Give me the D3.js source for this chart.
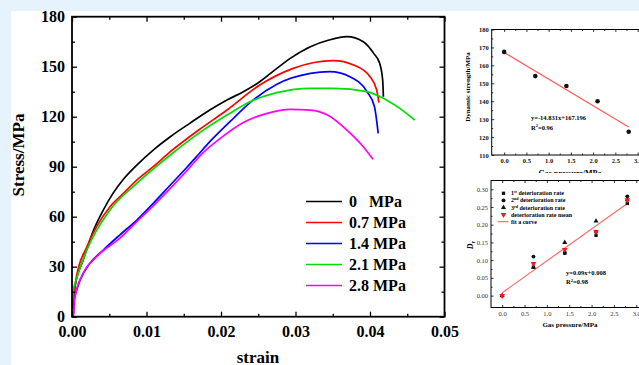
<!DOCTYPE html>
<html>
<head>
<meta charset="utf-8">
<script src="https://cdn.jsdelivr.net/npm/d3@7"></script>
<style>
  body { margin: 0; background: #fff; }
  svg { display: block; font-family: "Liberation Serif", "Times New Roman", serif; }
</style>
</head>
<body>
<script>
// main chart: stress-strain curves, [strain, stress]
const seriesNames = ['0   MPa', '0.7 MPa', '1.4 MPa', '2.1 MPa', '2.8 MPa'];
const seriesColors = ['#000000', '#ff0000', '#0000ff', '#00dd00', '#ff00ff'];
const curve0 = [[0.0002,2],[0.0004,18],[0.0015,34],[0.0029,52],[0.0042,64],[0.0055,74],[0.0069,82.5],[0.0087,91],[0.0109,100],[0.0132,108],[0.0158,116],[0.0185,124],[0.0208,130],[0.023,135],[0.0252,141],[0.0275,149],[0.0293,155],[0.032,162],[0.0345,166],[0.0369,168],[0.0391,165],[0.0405,158],[0.0413,152],[0.0417,142],[0.0418,132]];
const curve07 = [[0.00005,5],[0.0006,24],[0.002,42],[0.0033,54],[0.0051,66],[0.0069,74],[0.0087,82],[0.0109,90],[0.0132,99],[0.017,112],[0.0208,124],[0.0252,139],[0.0297,149],[0.0325,152.5],[0.0351,153.6],[0.0378,151],[0.04,144],[0.0409,136],[0.0412,128.4]];
const curve14 = [[0.0001,5],[0.0002,8],[0.0011,22],[0.0024,32],[0.0042,40],[0.0064,49],[0.0087,58],[0.0109,68],[0.0132,79],[0.0154,89.5],[0.017,97.5],[0.0185,105],[0.0212,117],[0.0239,128.5],[0.0275,139.5],[0.032,146],[0.0346,147],[0.0373,144],[0.0396,135],[0.0406,126],[0.0411,110]];
const curve21 = [[0.00005,8],[0.0001,14],[0.0007,24],[0.002,40],[0.0051,64],[0.0087,80],[0.0132,97],[0.017,110],[0.0208,121],[0.0239,129],[0.0275,134.4],[0.032,137],[0.0351,137],[0.0396,135],[0.0422,130],[0.044,125],[0.046,118]];
const curve28 = [[0.0002,0],[0.0004,12],[0.0015,26],[0.0033,36],[0.0064,47],[0.0087,57],[0.011,67],[0.0132,77],[0.0155,88],[0.0175,98],[0.0199,107],[0.023,116.5],[0.0262,122],[0.0293,124.4],[0.032,124],[0.0343,121],[0.0369,112],[0.0391,102],[0.0404,94.4]];
const curves = [curve0, curve07, curve14, curve21, curve28];
const strainTicks = [0, 0.01, 0.02, 0.03, 0.04, 0.05];
const stressTicks = [0, 30, 60, 90, 120, 150, 180];

// inset 1: dynamic strength vs gas pressure
const gasPressure = [0, 0.7, 1.4, 2.1, 2.8];
const dynStrength = [167.5, 154, 148.5, 140, 123];
const fit1 = [-14.831, 167.196];
const inset1XTicks = [0, 0.5, 1.0, 1.5, 2.0, 2.5, 3.0];
const inset1YTicks = [110, 120, 130, 140, 150, 160, 170, 180];

// inset 2: deterioration rate vs gas pressure
const rate1 = [0, 0.08, 0.12, 0.17, 0.26];
const rate2 = [0, 0.11, 0.12, 0.18, 0.28];
const rate3 = [0, 0.08, 0.15, 0.21, 0.27];
const rateMean = [0, 0.09, 0.13, 0.18, 0.27];
const fit2 = [0.09, 0.008];
const inset2YTicks = [0, 0.05, 0.10, 0.15, 0.20, 0.25, 0.30];

const W = 639, H = 365;
const svg = d3.select('body').append('svg').attr('width', W).attr('height', H);

svg.append('rect').attr('width', W).attr('height', H).attr('fill', '#e7f3fc');
svg.append('rect').attr('x', 11).attr('y', 11).attr('width', W - 11).attr('height', H - 11).attr('fill', '#fff');

// frame + inward ticks helper
function frameAxes(g, x, y, o) {
    const [x0, x1] = x.range(), [y0, y1] = y.range();
    const put = (axis, t) => g.append('g').attr('transform', t).call(axis)
        .attr('font-family', null)
        .call(s => s.select('.domain').remove());
    const lab = (axis) => axis.tickSizeOuter(0);
    // bottom
    put(lab(d3.axisBottom(x).tickValues(o.xTicks).tickSizeInner(-o.major).tickPadding(o.xPad).tickFormat(o.xFmt)), `translate(0,${y0})`)
        .call(s => s.selectAll('text').attr('font-size', o.fs).attr('font-weight', o.fw).attr('fill', o.tc));
    put(lab(d3.axisBottom(x).tickValues(o.xMinor).tickSizeInner(-o.minor).tickFormat('')), `translate(0,${y0})`);
    // top
    put(lab(d3.axisTop(x).tickValues(o.xTicks).tickSizeInner(-o.major).tickFormat('')), `translate(0,${y1})`);
    put(lab(d3.axisTop(x).tickValues(o.xMinor).tickSizeInner(-o.minor).tickFormat('')), `translate(0,${y1})`);
    // left
    put(lab(d3.axisLeft(y).tickValues(o.yTicks).tickSizeInner(-o.major).tickPadding(o.yPad).tickFormat(o.yFmt)), `translate(${x0},0)`)
        .call(s => s.selectAll('text').attr('font-size', o.fs).attr('font-weight', o.fw).attr('fill', o.tc));
    put(lab(d3.axisLeft(y).tickValues(o.yMinor).tickSizeInner(-o.minor).tickFormat('')), `translate(${x0},0)`);
    // right
    put(lab(d3.axisRight(y).tickValues(o.yTicks).tickSizeInner(-o.major).tickFormat('')), `translate(${x1},0)`);
    put(lab(d3.axisRight(y).tickValues(o.yMinor).tickSizeInner(-o.minor).tickFormat('')), `translate(${x1},0)`);
    g.selectAll('.tick line').attr('stroke', '#000').attr('stroke-width', o.tw);
    g.append('rect').attr('x', x0).attr('y', y1).attr('width', x1 - x0).attr('height', y0 - y1)
        .attr('fill', 'none').attr('stroke', '#000').attr('stroke-width', o.sw);
}

const mids = (t) => t.slice(1).map((v, i) => (v + t[i]) / 2);

// ---------- main chart ----------
const x = d3.scaleLinear().domain([0, 0.05]).range([72, 444.5]);
const y = d3.scaleLinear().domain([0, 180]).range([316.7, 16.7]);
const main = svg.append('g');

const line = d3.line().x(d => x(d[0])).y(d => y(d[1])).curve(d3.curveMonotoneX);
main.selectAll('path.curve')
    .data(curves)
    .enter()
    .append('path')
    .attr('class', 'curve')
    .attr('d', line)
    .attr('fill', 'none')
    .attr('stroke', (d, i) => seriesColors[i])
    .attr('stroke-width', 1.7);

frameAxes(main, x, y, {
    xTicks: strainTicks, xMinor: mids(strainTicks), yTicks: stressTicks, yMinor: mids(stressTicks),
    major: 5, minor: 3, xPad: 9, yPad: 7, fs: 16, fw: 'bold', tw: 1.3, sw: 1.8, tc: '#000',
    xFmt: d3.format('.2f'), yFmt: d3.format('d')
});

main.append('text').attr('transform', 'translate(24,155) rotate(-90)')
    .attr('text-anchor', 'middle').attr('font-size', 17).attr('font-weight', 'bold').text('Stress/MPa');
main.append('text').attr('x', 258).attr('y', 363)
    .attr('text-anchor', 'middle').attr('font-size', 17).attr('font-weight', 'bold').text('strain');

// legend
const leg = main.selectAll('g.leg').data(seriesNames).enter().append('g')
    .attr('class', 'leg').attr('transform', (d, i) => `translate(306,${201.5 + i * 21})`);
leg.append('line').attr('x1', 0).attr('x2', 36).attr('stroke', (d, i) => seriesColors[i]).attr('stroke-width', 1.7);
leg.append('text').attr('x', 43).attr('y', 5.5).attr('font-size', 16).attr('font-weight', 'bold')
    .attr('xml:space', 'preserve').style('white-space', 'pre').text(d => d);

// ---------- inset 1 ----------
const x1 = d3.scaleLinear().domain([-0.28, 3.2]).range([491.7, 646.5]);
const y1 = d3.scaleLinear().domain([110, 180]).range([155, 29.5]);
const in1 = svg.append('g');
frameAxes(in1, x1, y1, {
    xTicks: inset1XTicks, xMinor: mids(inset1XTicks), yTicks: inset1YTicks, yMinor: mids(inset1YTicks),
    major: 2.5, minor: 1.5, xPad: 3, yPad: 3, fs: 6.5, fw: 'bold', tw: 0.8, sw: 1, tc: '#111',
    xFmt: d3.format('.1f'), yFmt: d3.format('d')
});
in1.append('line')
    .attr('x1', x1(0)).attr('y1', y1(fit1[0] * 0 + fit1[1]))
    .attr('x2', x1(2.8)).attr('y2', y1(fit1[0] * 2.8 + fit1[1]))
    .attr('stroke', '#ff5a5a').attr('stroke-width', 1.2);
in1.selectAll('circle').data(gasPressure).enter().append('circle')
    .attr('cx', d => x1(d)).attr('cy', (d, i) => y1(dynStrength[i])).attr('r', 2.3).attr('fill', '#111');
in1.append('text').attr('x', 531).attr('y', 120).attr('font-size', 6.5).attr('font-weight', 'bold').text('y=-14.831x+167.196');
const r1 = in1.append('text').attr('x', 531).attr('y', 129.5).attr('font-size', 6.5).attr('font-weight', 'bold');
r1.append('tspan').text('R');
r1.append('tspan').attr('font-size', 4.5).attr('dy', -2.5).text('2');
r1.append('tspan').attr('dy', 2.5).text('=0.96');
in1.append('text').attr('transform', 'translate(470,87) rotate(-90)').attr('text-anchor', 'middle')
    .attr('font-size', 7).attr('font-weight', 'bold').text('Dynamic strength/MPa');
in1.append('text').attr('x', 570).attr('y', 175.5).attr('text-anchor', 'middle')
    .attr('font-size', 8).attr('font-weight', 'bold').text('Gas pressure/MPa');

// ---------- inset 2 ----------
svg.append('rect').attr('x', 462).attr('y', 173).attr('width', W - 462).attr('height', 167).attr('fill', '#fff');
const x2 = d3.scaleLinear().domain([-0.25, 3.2]).range([491, 645.2]);
const y2 = d3.scaleLinear().domain([-0.0335, 0.3247]).range([307.5, 180.5]);
const in2 = svg.append('g');
frameAxes(in2, x2, y2, {
    xTicks: inset1XTicks, xMinor: mids(inset1XTicks), yTicks: inset2YTicks, yMinor: mids(inset2YTicks),
    major: 2.5, minor: 1.5, xPad: 4, yPad: 3, fs: 6.5, fw: 'normal', tw: 0.8, sw: 1, tc: '#333',
    xFmt: d3.format('.1f'), yFmt: d3.format('.2f')
});
in2.append('line')
    .attr('x1', x2(0)).attr('y1', y2(fit2[0] * 0 + fit2[1]))
    .attr('x2', x2(2.8)).attr('y2', y2(fit2[0] * 2.8 + fit2[1]))
    .attr('stroke', '#ff6a6a').attr('stroke-width', 1.2);

const sym = {
    square: d3.symbol(d3.symbolSquare, 11)(),
    circle: d3.symbol(d3.symbolCircle, 12)(),
    tri: d3.symbol(d3.symbolTriangle, 11)(),
};
const triDown = d3.symbol(d3.symbolTriangle, 14)();
const rateSets = [
    { vals: rate1, path: sym.square, color: '#111', rot: 0 },
    { vals: rate2, path: sym.circle, color: '#111', rot: 0 },
    { vals: rate3, path: sym.tri, color: '#111', rot: 0 },
    { vals: rateMean, path: triDown, color: '#ee1c1c', rot: 180 },
];
rateSets.forEach(s => {
    in2.append('g').selectAll('path').data(gasPressure).enter().append('path')
        .attr('d', s.path).attr('fill', s.color)
        .attr('transform', (d, i) => `translate(${x2(d)},${y2(s.vals[i])}) rotate(${s.rot})`);
});

const legItems = [['1', 'st', ' deterioration rate'], ['2', 'nd', ' deterioration rate'], ['3', 'rd', ' deterioration rate'], ['', '', 'deterioration rate mean'], ['', '', 'fit a curve']];
const lg2 = in2.selectAll('g.lg2').data(legItems).enter().append('g').attr('class', 'lg2')
    .attr('transform', (d, i) => `translate(503.5,${193.3 + i * 7.1})`);
lg2.each(function (d, i) {
    const g = d3.select(this);
    if (i < 4) {
        g.append('path').attr('d', rateSets[i].path).attr('fill', rateSets[i].color)
            .attr('transform', `rotate(${rateSets[i].rot})`);
    } else {
        g.append('line').attr('x1', -6).attr('x2', 5).attr('stroke', '#ff6a6a').attr('stroke-width', 1.2);
    }
    const t = g.append('text').attr('x', 7.5).attr('y', 2).attr('font-size', 6).attr('font-weight', 'bold')
        .attr('xml:space', 'preserve');
    if (d[0]) {
        t.append('tspan').text(d[0]);
        t.append('tspan').attr('font-size', 4).attr('dy', -2).text(d[1]);
        t.append('tspan').attr('dy', 2).text(d[2]);
    } else {
        t.text(d[2]);
    }
});

in2.append('text').attr('x', 566).attr('y', 275).attr('font-size', 6.5).attr('font-weight', 'bold').text('y=0.09x+0.008');
const r2 = in2.append('text').attr('x', 566).attr('y', 284).attr('font-size', 6.5).attr('font-weight', 'bold');
r2.append('tspan').text('R');
r2.append('tspan').attr('font-size', 4.5).attr('dy', -2.5).text('2');
r2.append('tspan').attr('dy', 2.5).text('=0.98');

const yl2 = in2.append('text').attr('transform', 'translate(473,245) rotate(-90)').attr('text-anchor', 'middle')
    .attr('font-size', 8).attr('font-weight', 'bold');
yl2.append('tspan').attr('font-style', 'italic').text('D');
yl2.append('tspan').attr('font-size', 6).attr('dy', 2).text('r');

in2.append('text').attr('x', 570).attr('y', 327).attr('text-anchor', 'middle')
    .attr('font-size', 7).attr('font-weight', 'bold').text('Gas pressure/MPa');
</script>
</body>
</html>
